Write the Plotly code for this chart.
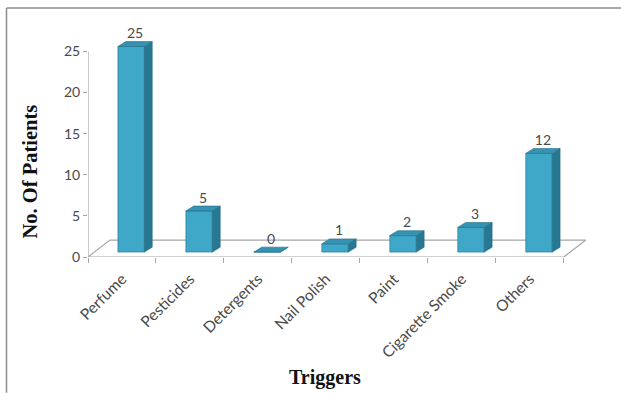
import plotly.graph_objects as go

# Chart data
categories = ["Perfume", "Pesticides", "Detergents", "Nail Polish", "Paint",
              "Cigarette Smoke", "Others"]
patients = [25, 5, 0, 1, 2, 3, 12]
y_ticks = [0, 5, 10, 15, 20, 25]

# 3-D look, in axis units
FACE_L, FACE_R = -0.06, 0.33      # front face span around category centre
LIFT = 0.6                        # front face sits slightly above the floor edge
DEPTH_X, DEPTH_Y = 0.115, 0.6     # bar depth (side/top faces)
FLOOR_DX, FLOOR_DY = 0.324, 2.06  # floor depth

FRONT = "#3fa8c8"
SIDE = "#277893"
TOP = "#3592b2"
EDGE = "#246d87"
GRID = "#a6a6a6"
TEXT = "#4a4a4a"

fig = go.Figure()

n = len(categories)
x0, x1 = -0.5, n - 0.5

# floor of the 3-D plot area
fig.add_trace(go.Scatter(
    x=[x0, x1, x1 + FLOOR_DX, x0 + FLOOR_DX, x0],
    y=[0, 0, FLOOR_DY, FLOOR_DY, 0],
    mode="lines", fill="toself", fillcolor="rgba(255,255,255,0)",
    line=dict(color=GRID, width=1.2), hoverinfo="skip", showlegend=False))

# vertical value axis line
fig.add_trace(go.Scatter(
    x=[x0, x0], y=[0, max(y_ticks)], mode="lines",
    line=dict(color=GRID, width=1.2), hoverinfo="skip", showlegend=False))


def poly(xs, ys, color):
    fig.add_trace(go.Scatter(
        x=xs + [xs[0]], y=ys + [ys[0]], mode="lines", fill="toself",
        fillcolor=color, line=dict(color=EDGE, width=0.6),
        hoverinfo="skip", showlegend=False))


for i, v in enumerate(patients):
    l, r = i + FACE_L, i + FACE_R
    b, t = LIFT, v + LIFT
    # front face
    poly([l, r, r, l], [b, b, t, t], FRONT)
    # right side face
    poly([r, r + DEPTH_X, r + DEPTH_X, r],
         [b, b + DEPTH_Y, t + DEPTH_Y, t], SIDE)
    # top face
    poly([l, r, r + DEPTH_X, l + DEPTH_X],
         [t, t, t + DEPTH_Y, t + DEPTH_Y], TOP)

# value labels above each bar
fig.add_trace(go.Scatter(
    x=[i + (FACE_L + FACE_R + DEPTH_X) / 2 for i in range(n)],
    y=[v + LIFT + DEPTH_Y for v in patients],
    mode="text", text=[str(v) for v in patients],
    textposition="top center", cliponaxis=False,
    textfont=dict(family="Lato", size=14, color=TEXT),
    hoverinfo="skip", showlegend=False))

fig.update_layout(
    width=621, height=393,
    margin=dict(l=88, r=30, t=34.5, b=136),
    paper_bgcolor="white", plot_bgcolor="white",
    xaxis=dict(
        range=[x0, x1 + 0.4], tickmode="array",
        tickvals=list(range(n)), ticktext=categories,
        tickangle=-45, ticks="", showgrid=False, zeroline=False,
        showline=False, ticklabelstandoff=9,
        tickfont=dict(family="Lato", size=15.5, color=TEXT),
        minor=dict(tickmode="array",
                   tickvals=[k + 0.5 for k in range(-1, n)],
                   ticks="outside", ticklen=5, tickcolor=GRID, tickwidth=1.2,
                   showgrid=False),
    ),
    yaxis=dict(
        range=[0, 27], tickmode="array", tickvals=y_ticks,
        ticks="outside", ticklen=4, tickcolor=GRID, tickwidth=1.2,
        showgrid=False, zeroline=False, showline=False,
        tickfont=dict(family="Lato", size=14, color=TEXT),
    ),
    annotations=[
        dict(text="<b>No. Of Patients</b>", textangle=-90,
             xref="paper", yref="paper", x=-0.1153, y=0.385,
             xanchor="center", yanchor="middle", showarrow=False,
             font=dict(family="Liberation Serif", size=20.5, color="#111111")),
        dict(text="<b>Triggers</b>",
             xref="paper", yref="paper", x=0.471, y=-0.544,
             xanchor="center", yanchor="middle", showarrow=False,
             font=dict(family="Liberation Serif", size=20, color="#111111")),
    ],
    shapes=[
        dict(type="line", xref="paper", yref="paper",
             x0=(6.5 - 88) / 503, x1=(6.5 - 88) / 503,
             y0=(257 - 393) / 222.5, y1=(257 - 7.5) / 222.5,
             line=dict(color="#8c8c8c", width=1.5)),
        dict(type="line", xref="paper", yref="paper",
             x0=(6.5 - 88) / 503, x1=(621 - 88) / 503,
             y0=(257 - 7.5) / 222.5, y1=(257 - 7.5) / 222.5,
             line=dict(color="#8c8c8c", width=1.5)),
    ],
)

fig.write_html("out.html")
